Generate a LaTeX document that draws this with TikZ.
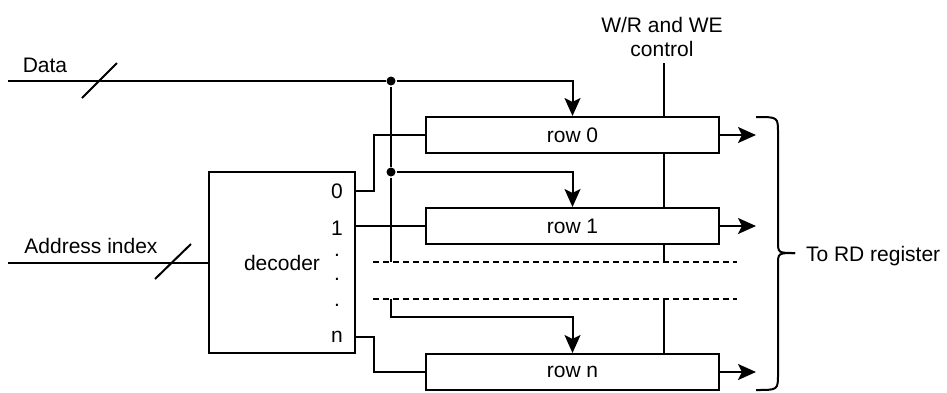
\documentclass[tikz,border=0pt]{standalone}
\usepackage{fontspec}
\setmainfont{Liberation Sans}
\usetikzlibrary{positioning,arrows.meta}

\begin{document}
\begin{tikzpicture}[x=0.5pt, y=-0.5pt, line width=1pt,
        font=\fontsize{10.5}{12}\selectfont,
        rowbox/.style={draw, fill=white, minimum width=146.5pt, minimum height=18pt, inner sep=0pt},
        decbox/.style={draw, minimum width=73pt, minimum height=90.5pt},
        port/.style={inner sep=0pt},
        junction/.style={circle, fill, inner sep=0pt, minimum size=4.5pt},
        arr/.style={-{Stealth[length=9pt, width=8pt, inset=2pt]}},
        rowgap/.style={line width=0.8pt, dash pattern=on 3pt off 2pt}]
        \useasboundingbox (0,0) rectangle (947,392);

        % rows and decoder
        \node[rowbox] (row0) at (572.5,135) {row 0};
        \node[rowbox] (row1) at (572.5,226) {row 1};
        \node[rowbox] (rown) at (572.5,372) {row n};
        \node[decbox] (dec) at (282,262.5) {decoder};
        \node[port] (p0) at (337,191) {0};
        \node[port] (p1) at (337,228) {1};
        \node[port, anchor=base] (v1) at (337,256) {.};
        \node[port, anchor=base] (v2) at (337,280) {.};
        \node[port, anchor=base] (v3) at (337,306) {.};
        \node[port] (pn) at (337,337) {n};

        % labels
        \node[anchor=base] (datalbl) at (45,72) {Data};
        \node[anchor=base] (addrlbl) at (91,253) {Address index};
        \node[align=center] (ctrl) at (662,37) {W/R and WE\\control};
        \node[anchor=base west, inner sep=0pt] (rdlbl) at (805,261) {To RD register};

        \coordinate (datain) at (8,81);
        \coordinate (addrin) at (8,262.5);
        \coordinate (ctrltop) at (664,63);
        \node[junction] (j0) at (391,81) {};
        \node[junction] (j1) at (391,172) {};
        \coordinate (j2) at (391,262);
        \coordinate (j3) at (391,299);
        \coordinate (k3) at (391,317);
        \coordinate (gap1w) at (373,262);
        \coordinate (gap1e) at (737,262);
        \coordinate (gap2w) at (373,299);
        \coordinate (gap2e) at (737,299);

        % data bus
        \draw (datain) -- (j0);
        \draw (82,98) -- (117,63);
        \draw[arr] (j0) -| (row0.north);
        \draw (j0) -- (j1) -- (j2);
        \draw[arr] (j1) -| (row1.north);
        \draw[arr] (j3) -- (k3) -| (rown.north);

        % address and decoder outputs
        \draw (addrin) -- (dec.west);
        \draw (155,279) -- (191,244);
        \draw (dec.east |- p0) -- ++(18,0) |- (row0.west);
        \draw (dec.east |- row1.west) -- (row1.west);
        \draw (dec.east |- pn) -- ++(18,0) |- (rown.west);

        % omitted rows
        \draw[rowgap] (gap1w) -- (gap1e);
        \draw[rowgap] (gap2w) -- (gap2e);

        % control line
        \draw (ctrltop) -- (ctrltop |- row0.north);
        \draw (ctrltop |- row0.south) -- (ctrltop |- row1.north);
        \draw (ctrltop |- row1.south) -- (ctrltop |- gap1e);
        \draw (ctrltop |- gap2e) -- (ctrltop |- rown.north);

        % outputs
        \foreach \r in {row0,row1,rown}
            \draw[arr] (\r.east) -- ++(36,0);
        \draw (756,117) .. controls (778,117) .. (778,133) -- (778,241) .. controls (778,253) .. (795,253);
        \draw (756,390) .. controls (778,390) .. (778,374) -- (778,265) .. controls (778,253) .. (795,253);
      \end{tikzpicture}
\end{document}
